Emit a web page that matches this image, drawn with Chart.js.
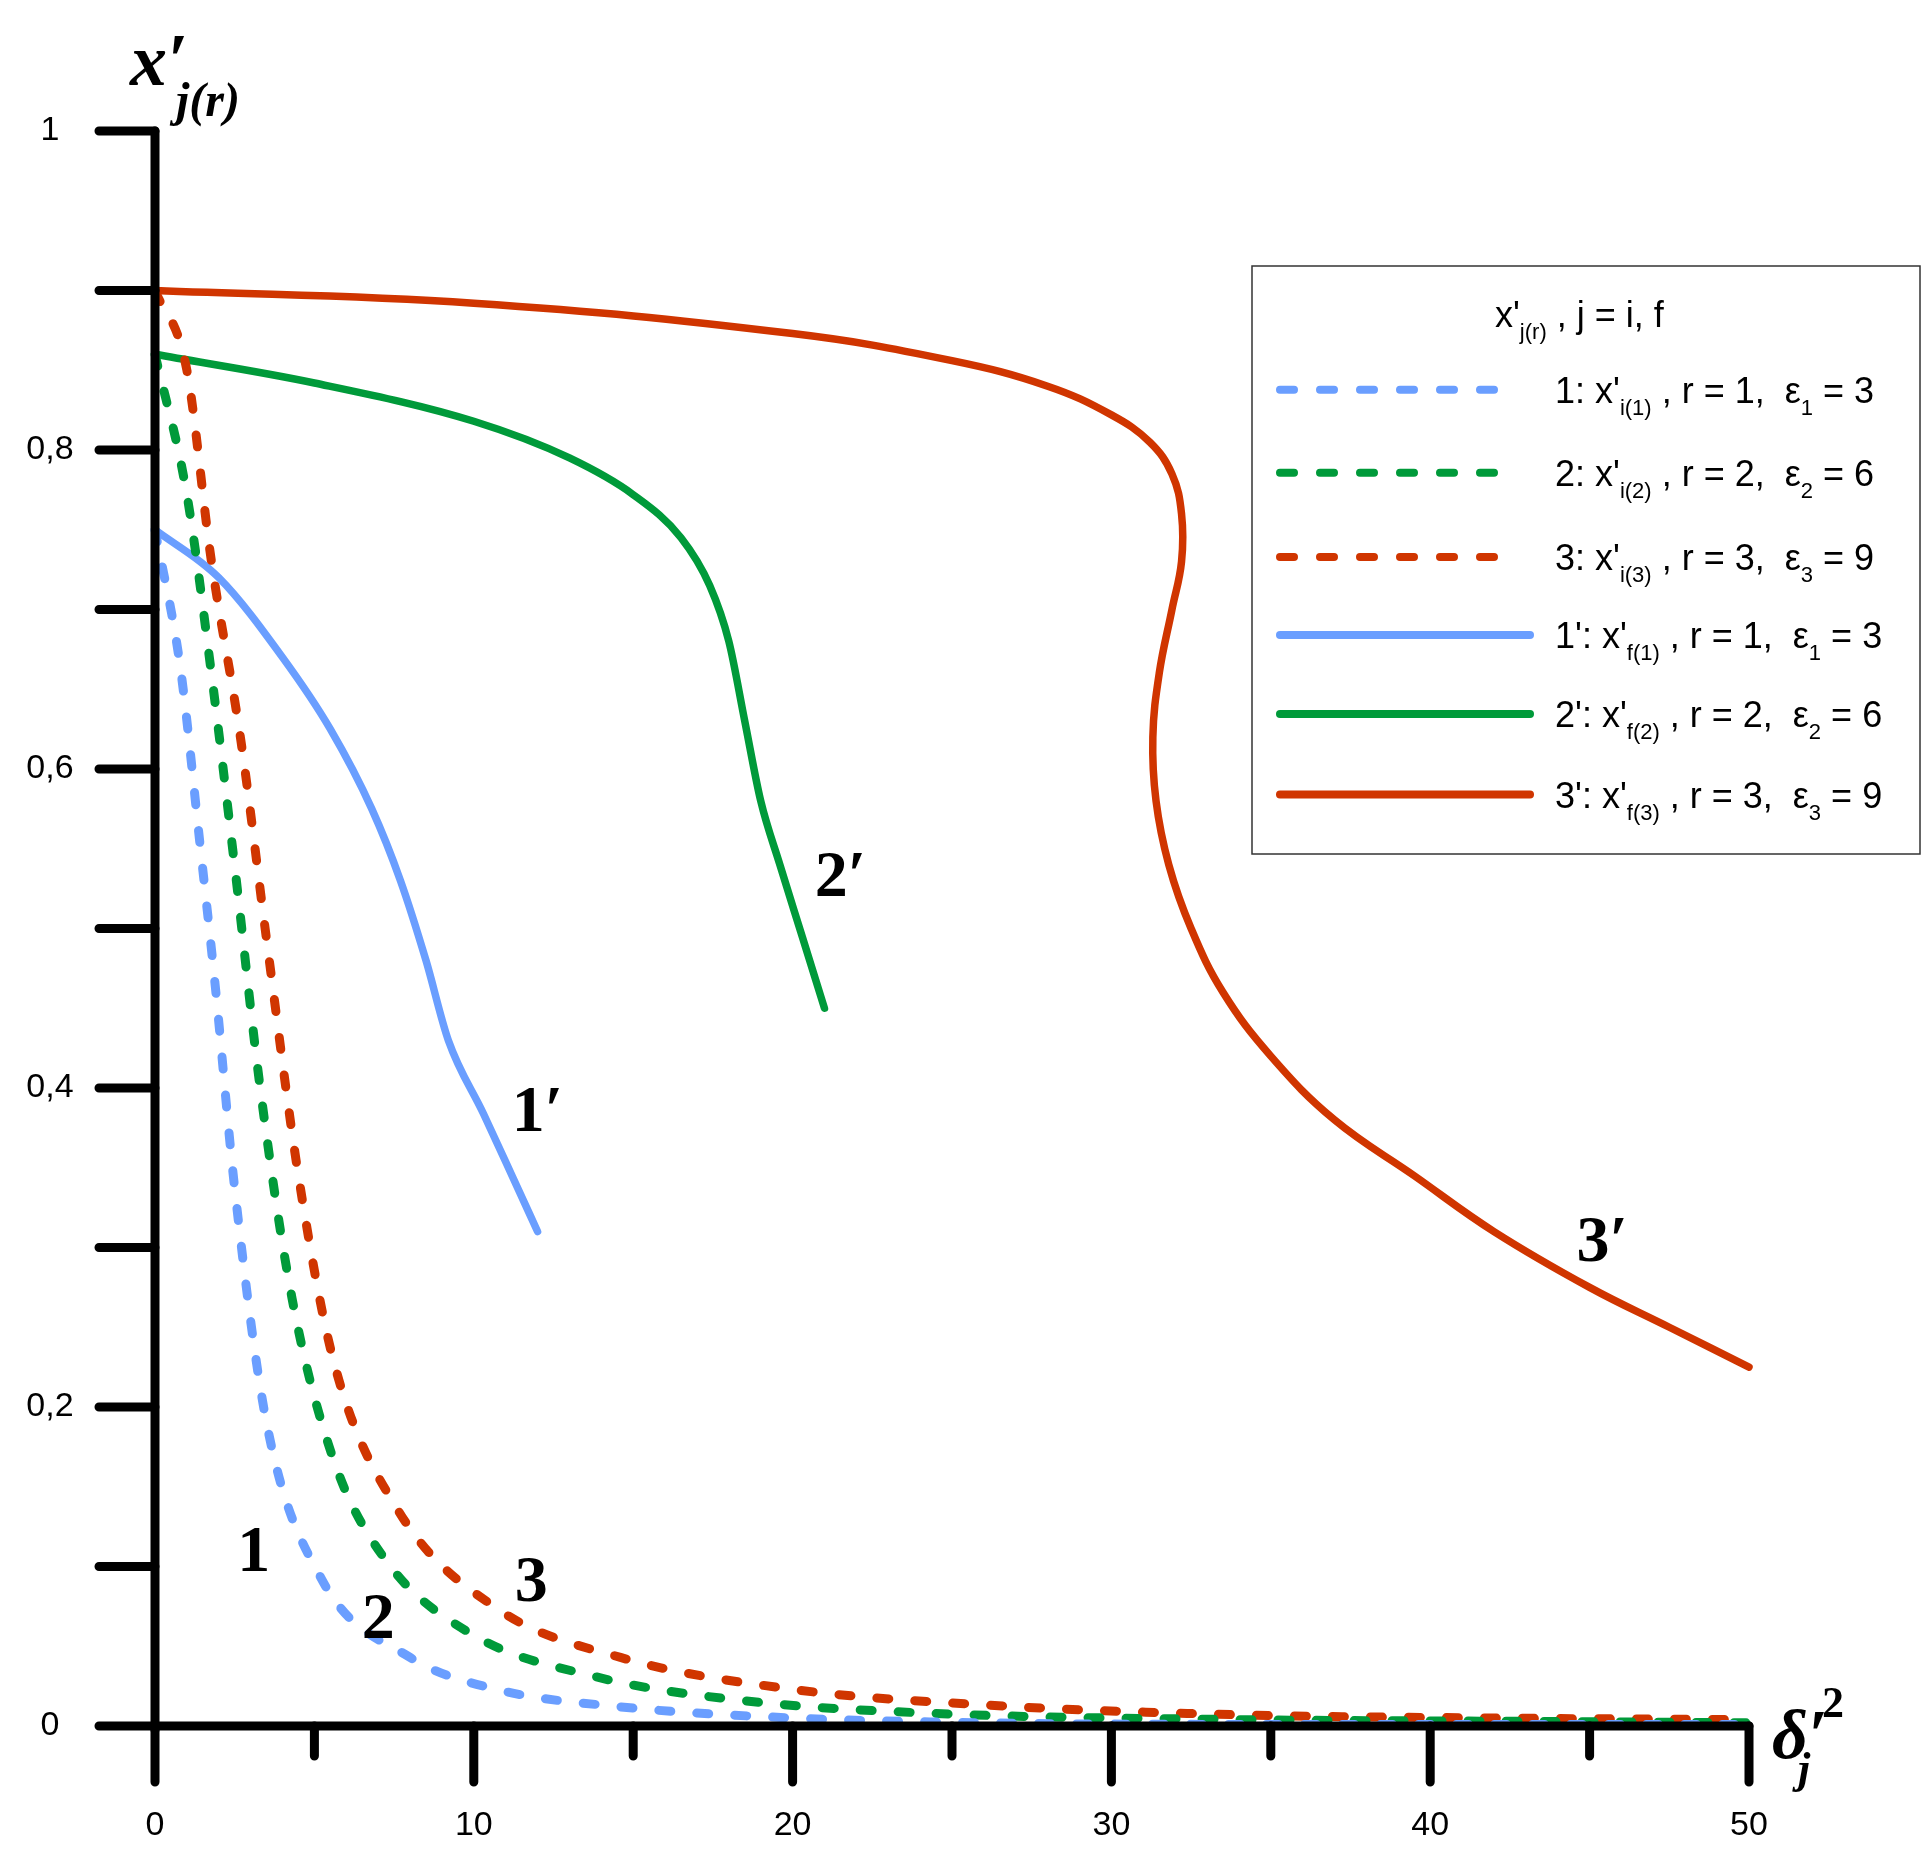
<!DOCTYPE html>
<html><head><meta charset="utf-8">
<script src="https://cdn.jsdelivr.net/npm/chart.js@4"></script>
<style>body{margin:0;background:#fff}</style></head>
<body><canvas id="c" width="1931" height="1856"></canvas>
<script>
const xTicks=[0,10,20,30,40,50];
const yTickLabels=['0','0,2','0,4','0,6','0,8','1'];
const s1x=[0,0.8,1.4,1.9,2.5,3.5,5.2,8,10.7,14.6,20,26,34,42,50];
const s1y=[0.75,0.663,0.555,0.462,0.337,0.19,0.093,0.043,0.023,0.012,0.005,0.002,0.001,0.001,0.001];
const s2x=[0,1,1.75,2.5,3.3,4.3,5.6,7.2,9.9,13.8,18.4,24.3,34,42,50];
const s2y=[0.86,0.772,0.663,0.539,0.4,0.268,0.167,0.105,0.058,0.031,0.016,0.008,0.004,0.003,0.002];
const s3x=[0,1,1.75,2.7,3.5,4.5,5.6,7.6,10.7,14.6,20,26.2,34,42,50];
const s3y=[0.9,0.85,0.733,0.617,0.493,0.345,0.229,0.136,0.074,0.043,0.023,0.013,0.007,0.005,0.004];
const f1x=[0,2,4,5.5,6.8,7.7,8.5,9.2,10.3,11.2,12];
const f1y=[0.75,0.72,0.67,0.625,0.575,0.53,0.48,0.43,0.384,0.345,0.31];
const f2x=[0,5,10,13,15,16.5,17.4,18,18.5,19,19.6,20.3,21];
const f2y=[0.86,0.842,0.818,0.795,0.772,0.745,0.715,0.68,0.63,0.58,0.54,0.495,0.45];
const f3x=[0,10,20,25,28,30,31.2,31.9,32.2,32.2,31.9,31.5,31.3,31.4,31.8,32.5,33.5,35,37,39.5,42,45,47.5,50];
const f3y=[0.9,0.892,0.873,0.856,0.84,0.822,0.805,0.785,0.76,0.73,0.7,0.66,0.62,0.58,0.54,0.5,0.46,0.42,0.38,0.345,0.31,0.275,0.25,0.225];
const curveLabels=['1','2','3','1′','2′','3′'];
const labelX=[3.1,7,11.8,12,21.5,45.4];
const labelY=[0.108,0.066,0.089,0.384,0.531,0.302];
const legendTexts=[['1: x\'','i(1)',' , r = 1,  ε','1',' = 3'],['2: x\'','i(2)',' , r = 2,  ε','2',' = 6'],['3: x\'','i(3)',' , r = 3,  ε','3',' = 9'],['1\': x\'','f(1)',' , r = 1,  ε','1',' = 3'],['2\': x\'','f(2)',' , r = 2,  ε','2',' = 6'],['3\': x\'','f(3)',' , r = 3,  ε','3',' = 9']];
const BLUE='#6a9eff',GREEN='#009a3a',RED='#d03500';
const pts=(xs,ys)=>xs.map((x,i)=>({x,y:ys[i]}));
function ds(xs,ys,c,dash){return {data:pts(xs,ys),borderColor:c,borderWidth:dash?9:7.5,borderDash:dash?[12,26]:[],borderCapStyle:'round',showLine:true,pointRadius:0,tension:0.4,cubicInterpolationMode:'monotone',fill:false,clip:false};}
const S=1.2376;
const deco={id:'deco',afterDraw(ch){
 const c=ch.ctx,xs=ch.scales.x,ys=ch.scales.y;const x0=xs.getPixelForValue(0),y0=ys.getPixelForValue(0);
 c.save();c.strokeStyle='#000';c.lineCap='round';c.lineWidth=9;
 c.beginPath();c.moveTo(x0,ys.getPixelForValue(1));c.lineTo(x0,y0+4);c.moveTo(x0-56,y0);c.lineTo(xs.getPixelForValue(50),y0);c.stroke();
 c.beginPath();
 for(let i=1;i<=10;i++){const y=ys.getPixelForValue(i/10);c.moveTo(x0-56,y);c.lineTo(x0,y);}
 for(let v=0;v<=50;v+=5){const x=xs.getPixelForValue(v);c.moveTo(x,y0);c.lineTo(x,y0+(v%10===0?56:30));}
 c.stroke();
 c.fillStyle='#000';c.font='34px "Liberation Sans", Arial';c.textAlign='center';c.textBaseline='middle';
 xTicks.forEach(v=>c.fillText(String(v),xs.getPixelForValue(v),y0+100));
 yTickLabels.forEach((t,i)=>c.fillText(t,50,ys.getPixelForValue(i*0.2)));
 c.font='bold 66px "Liberation Serif", serif';
 curveLabels.forEach((t,i)=>c.fillText(t,xs.getPixelForValue(labelX[i]),ys.getPixelForValue(labelY[i])));
 c.font='italic bold 74px "Liberation Serif", serif';c.textAlign='left';
 c.fillText('x′',130,66);c.font='italic bold 48px "Liberation Serif", serif';c.fillText('j(r)',176,104);
 c.font='italic bold 70px "Liberation Serif", serif';c.fillText('δ′',1772,1740);
 c.font='bold 44px "Liberation Serif", serif';c.fillText('2',1822,1706);
 c.font='italic bold 44px "Liberation Serif", serif';c.fillText('j',1798,1772);
 c.lineWidth=1.5;c.strokeStyle='#333';c.strokeRect(1252,266,668,588);
 c.textBaseline='alphabetic';
 const F='36px "Liberation Sans", Arial';
 const sub=(txt,x,y)=>{c.font='22px "Liberation Sans", Arial';c.fillText(txt,x,y+12);return c.measureText(txt).width;};
 let x=1495;c.font=F;c.fillText("x'",x,327);x+=c.measureText("x'").width;x+=sub('j(r)',x,327);
 c.font=F;c.fillText(' , j = i, f',x,327);
 const cols=[BLUE,GREEN,RED,BLUE,GREEN,RED];const rows=[315,382,450,513,577,642];
 rows.forEach((ry,i)=>{const y=ry*S;c.strokeStyle=cols[i];c.lineWidth=8;c.lineCap='round';
  c.setLineDash(i<3?[14,26]:[]);c.beginPath();c.moveTo(1280,y);c.lineTo(i<3?1512:1530,y);c.stroke();c.setLineDash([]);
  const p=legendTexts[i];let tx=1555;const by=y+13;
  c.font=F;c.fillText(p[0],tx,by);tx+=c.measureText(p[0]).width;
  tx+=sub(p[1],tx,by);c.font=F;c.fillText(p[2],tx,by);tx+=c.measureText(p[2]).width;
  tx+=sub(p[3],tx,by);c.font=F;c.fillText(p[4],tx,by);});
 c.restore();}};
new Chart(document.getElementById('c'),{type:'scatter',
 data:{datasets:[ds(s1x,s1y,BLUE,true),ds(s2x,s2y,GREEN,true),ds(s3x,s3y,RED,true),ds(f1x,f1y,BLUE,false),ds(f2x,f2y,GREEN,false),{...ds(f3x,f3y,RED,false),cubicInterpolationMode:'default'}]},
 options:{responsive:false,devicePixelRatio:1,animation:false,layout:{padding:{left:155,right:182,top:131,bottom:130}},
  plugins:{legend:{display:false},tooltip:{enabled:false}},
  scales:{x:{type:'linear',min:0,max:50,display:false},y:{min:0,max:1,display:false}}},
 plugins:[deco]});
</script></body></html>
